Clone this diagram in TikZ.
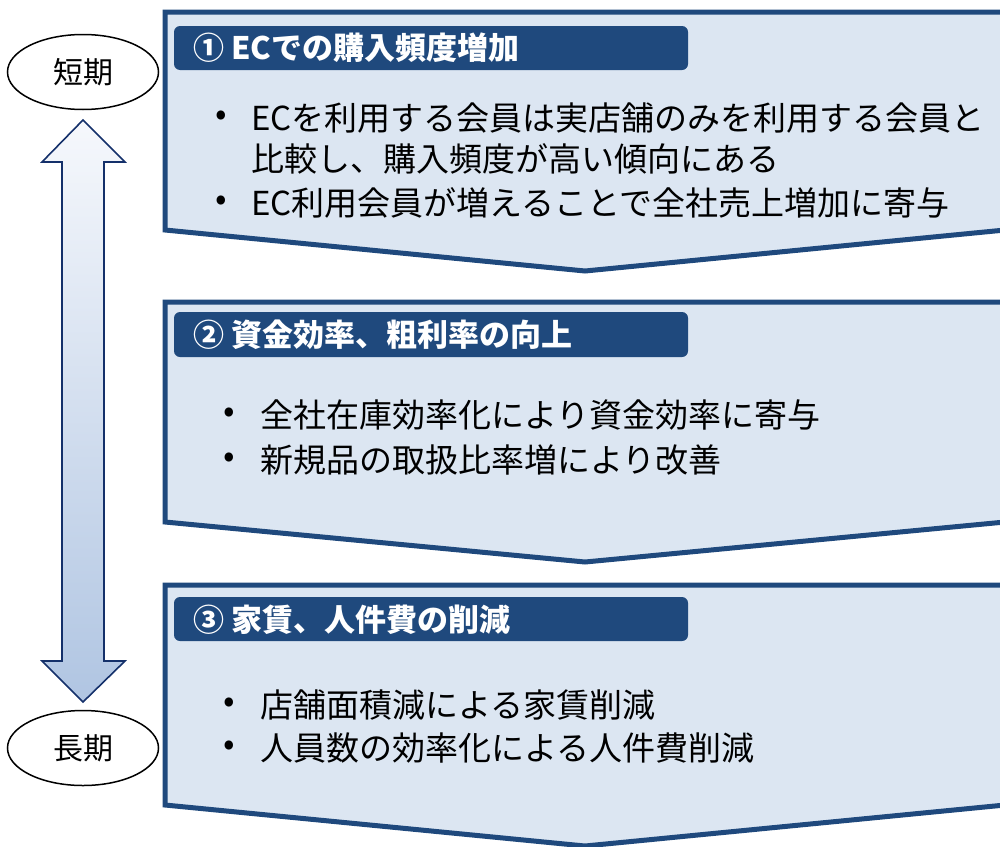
\documentclass[tikz,border=0pt]{standalone}
\usepackage{fontspec}
\setmainfont{Noto Sans CJK JP}
\usetikzlibrary{shapes.geometric}
\definecolor{boxline}{HTML}{1F497D}
\definecolor{boxfill}{HTML}{DCE6F2}
\definecolor{headfill}{HTML}{1F497D}
\definecolor{arrtop}{HTML}{F6F8FC}
\definecolor{arrbot}{HTML}{B0C5E2}
\definecolor{arrline}{HTML}{14306A}
\tikzset{
  chevron/.style={draw=boxline, fill=boxfill, line width=5pt, line join=miter},
  headbar/.style={fill=headfill, rounded corners=6pt},
  headtext/.style={anchor=west, inner sep=0pt, text=white, font=\fontsize{31}{36}\selectfont\bfseries},
  bul/.style={anchor=center, inner sep=0pt, font=\fontsize{34}{40}\selectfont},
  txt/.style={anchor=west, inner sep=0pt, font=\fontsize{33}{40}\selectfont},
  term/.style={ellipse, draw=black, line width=1.5pt, fill=white, minimum width=151pt, minimum height=75pt, inner sep=0pt, font=\fontsize{30}{36}\selectfont},
  timearrow/.style={draw=arrline, line width=1.6pt, top color=arrtop, bottom color=arrbot, line join=miter}
}
\begin{document}
\begin{tikzpicture}[x=1pt,y=-1pt]
\useasboundingbox (0,0) rectangle (1000,846);
\begin{scope}
\clip (0,0) rectangle (1000,846);
% chevron boxes
\path[chevron] (165,12) -- (1005,12) -- (1005,230) -- (585,271) -- (165,230) -- cycle;
\path[chevron] (165,302) -- (1005,302) -- (1005,522) -- (585,562) -- (165,522) -- cycle;
\path[chevron] (165,585) -- (1005,585) -- (1005,805) -- (585,846) -- (165,805) -- cycle;
\end{scope}
% headers
\path[headbar] (174,26) rectangle (688,70);
\path[headbar] (174,312) rectangle (688,357);
\path[headbar] (174,597) rectangle (688,641);
\node[headtext] (h1) at (193,48) {① ECでの購入頻度増加};
\node[headtext] (h2) at (193,335) {② 資金効率、粗利率の向上};
\node[headtext] (h3) at (193,620) {③ 家賃、人件費の削減};
% box 1 bullets
\node[bul] (b1a) at (221,118) {•};
\node[txt] (t1a) at (251,118) {ECを利用する会員は実店舗のみを利用する会員と};
\node[txt] (t1b) at (251,159) {比較し、購入頻度が高い傾向にある};
\node[bul] (b1c) at (221,203) {•};
\node[txt] (t1c) at (251,203) {EC利用会員が増えることで全社売上増加に寄与};
% box 2 bullets
\node[bul] (b2a) at (229,415) {•};
\node[txt] (t2a) at (260,415) {全社在庫効率化により資金効率に寄与};
\node[bul] (b2b) at (229,460) {•};
\node[txt] (t2b) at (260,460) {新規品の取扱比率増により改善};
% box 3 bullets
\node[bul] (b3a) at (229,705) {•};
\node[txt] (t3a) at (260,705) {店舗面積減による家賃削減};
\node[bul] (b3b) at (229,748) {•};
\node[txt] (t3b) at (260,748) {人員数の効率化による人件費削減};
% time arrow
\path[timearrow] (83,120) -- (125,162) -- (104,162) -- (104,661) -- (125,661) -- (83,702) -- (42,661) -- (62,661) -- (62,162) -- (42,162) -- cycle;
\node[term] (short) at (83,72) {短期};
\node[term] (long) at (83,748) {長期};
\end{tikzpicture}
\end{document}
